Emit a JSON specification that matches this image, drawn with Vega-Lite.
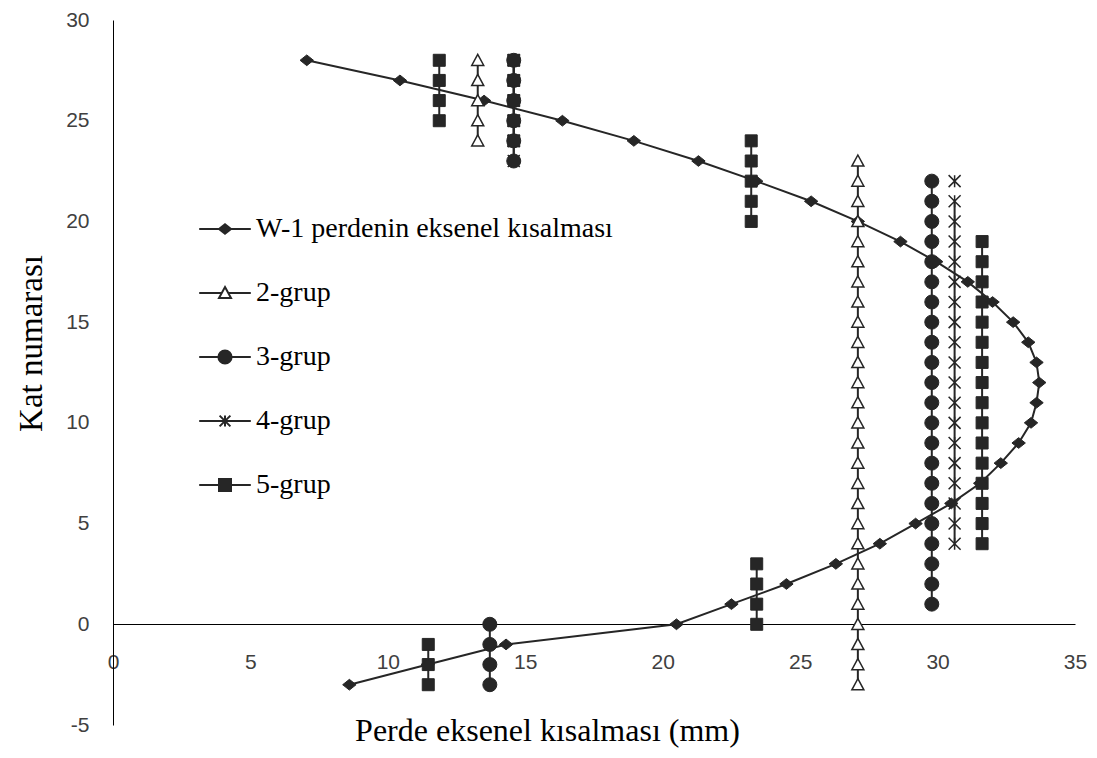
{
  "$schema": "https://vega.github.io/schema/vega-lite/v6.json",
  "width": 962,
  "height": 705,
  "autosize": "none",
  "padding": {"left": 113, "top": 20, "right": 22, "bottom": 33},
  "background": "white",
  "config": {"view": {"stroke": null}, "axis": {"grid": false}},
  "data": {"values": [
    {"series": "5-grup", "seg": "5a", "x": 11.87, "y": 25}, {"series": "5-grup", "seg": "5a", "x": 11.87, "y": 26}, {"series": "5-grup", "seg": "5a", "x": 11.87, "y": 27}, {"series": "5-grup", "seg": "5a", "x": 11.87, "y": 28},
    {"series": "5-grup", "seg": "5b", "x": 14.58, "y": 24}, {"series": "5-grup", "seg": "5b", "x": 14.58, "y": 25}, {"series": "5-grup", "seg": "5b", "x": 14.58, "y": 26}, {"series": "5-grup", "seg": "5b", "x": 14.58, "y": 27}, {"series": "5-grup", "seg": "5b", "x": 14.58, "y": 28},
    {"series": "5-grup", "seg": "5c", "x": 23.22, "y": 20}, {"series": "5-grup", "seg": "5c", "x": 23.22, "y": 21}, {"series": "5-grup", "seg": "5c", "x": 23.22, "y": 22}, {"series": "5-grup", "seg": "5c", "x": 23.22, "y": 23}, {"series": "5-grup", "seg": "5c", "x": 23.22, "y": 24},
    {"series": "5-grup", "seg": "5d", "x": 31.62, "y": 4}, {"series": "5-grup", "seg": "5d", "x": 31.62, "y": 5}, {"series": "5-grup", "seg": "5d", "x": 31.62, "y": 6}, {"series": "5-grup", "seg": "5d", "x": 31.62, "y": 7}, {"series": "5-grup", "seg": "5d", "x": 31.62, "y": 8}, {"series": "5-grup", "seg": "5d", "x": 31.62, "y": 9}, {"series": "5-grup", "seg": "5d", "x": 31.62, "y": 10}, {"series": "5-grup", "seg": "5d", "x": 31.62, "y": 11}, {"series": "5-grup", "seg": "5d", "x": 31.62, "y": 12}, {"series": "5-grup", "seg": "5d", "x": 31.62, "y": 13}, {"series": "5-grup", "seg": "5d", "x": 31.62, "y": 14}, {"series": "5-grup", "seg": "5d", "x": 31.62, "y": 15}, {"series": "5-grup", "seg": "5d", "x": 31.62, "y": 16}, {"series": "5-grup", "seg": "5d", "x": 31.62, "y": 17}, {"series": "5-grup", "seg": "5d", "x": 31.62, "y": 18}, {"series": "5-grup", "seg": "5d", "x": 31.62, "y": 19},
    {"series": "5-grup", "seg": "5e", "x": 23.42, "y": 0}, {"series": "5-grup", "seg": "5e", "x": 23.42, "y": 1}, {"series": "5-grup", "seg": "5e", "x": 23.42, "y": 2}, {"series": "5-grup", "seg": "5e", "x": 23.42, "y": 3},
    {"series": "5-grup", "seg": "5f", "x": 11.47, "y": -3}, {"series": "5-grup", "seg": "5f", "x": 11.47, "y": -2}, {"series": "5-grup", "seg": "5f", "x": 11.47, "y": -1},
    {"series": "4-grup", "seg": "4a", "x": 14.58, "y": 23}, {"series": "4-grup", "seg": "4a", "x": 14.58, "y": 24}, {"series": "4-grup", "seg": "4a", "x": 14.58, "y": 25}, {"series": "4-grup", "seg": "4a", "x": 14.58, "y": 26}, {"series": "4-grup", "seg": "4a", "x": 14.58, "y": 27}, {"series": "4-grup", "seg": "4a", "x": 14.58, "y": 28},
    {"series": "4-grup", "seg": "4b", "x": 30.62, "y": 4}, {"series": "4-grup", "seg": "4b", "x": 30.62, "y": 5}, {"series": "4-grup", "seg": "4b", "x": 30.62, "y": 6}, {"series": "4-grup", "seg": "4b", "x": 30.62, "y": 7}, {"series": "4-grup", "seg": "4b", "x": 30.62, "y": 8}, {"series": "4-grup", "seg": "4b", "x": 30.62, "y": 9}, {"series": "4-grup", "seg": "4b", "x": 30.62, "y": 10}, {"series": "4-grup", "seg": "4b", "x": 30.62, "y": 11}, {"series": "4-grup", "seg": "4b", "x": 30.62, "y": 12}, {"series": "4-grup", "seg": "4b", "x": 30.62, "y": 13}, {"series": "4-grup", "seg": "4b", "x": 30.62, "y": 14}, {"series": "4-grup", "seg": "4b", "x": 30.62, "y": 15}, {"series": "4-grup", "seg": "4b", "x": 30.62, "y": 16}, {"series": "4-grup", "seg": "4b", "x": 30.62, "y": 17}, {"series": "4-grup", "seg": "4b", "x": 30.62, "y": 18}, {"series": "4-grup", "seg": "4b", "x": 30.62, "y": 19}, {"series": "4-grup", "seg": "4b", "x": 30.62, "y": 20}, {"series": "4-grup", "seg": "4b", "x": 30.62, "y": 21},
    {"series": "4-grup", "seg": "4c", "x": 30.62, "y": 22},
    {"series": "3-grup", "seg": "3a", "x": 14.58, "y": 23}, {"series": "3-grup", "seg": "3a", "x": 14.58, "y": 24}, {"series": "3-grup", "seg": "3a", "x": 14.58, "y": 25}, {"series": "3-grup", "seg": "3a", "x": 14.58, "y": 26}, {"series": "3-grup", "seg": "3a", "x": 14.58, "y": 27}, {"series": "3-grup", "seg": "3a", "x": 14.58, "y": 28},
    {"series": "3-grup", "seg": "3b", "x": 29.79, "y": 1}, {"series": "3-grup", "seg": "3b", "x": 29.79, "y": 2}, {"series": "3-grup", "seg": "3b", "x": 29.79, "y": 3}, {"series": "3-grup", "seg": "3b", "x": 29.79, "y": 4}, {"series": "3-grup", "seg": "3b", "x": 29.79, "y": 5}, {"series": "3-grup", "seg": "3b", "x": 29.79, "y": 6}, {"series": "3-grup", "seg": "3b", "x": 29.79, "y": 7}, {"series": "3-grup", "seg": "3b", "x": 29.79, "y": 8}, {"series": "3-grup", "seg": "3b", "x": 29.79, "y": 9}, {"series": "3-grup", "seg": "3b", "x": 29.79, "y": 10}, {"series": "3-grup", "seg": "3b", "x": 29.79, "y": 11}, {"series": "3-grup", "seg": "3b", "x": 29.79, "y": 12}, {"series": "3-grup", "seg": "3b", "x": 29.79, "y": 13}, {"series": "3-grup", "seg": "3b", "x": 29.79, "y": 14}, {"series": "3-grup", "seg": "3b", "x": 29.79, "y": 15}, {"series": "3-grup", "seg": "3b", "x": 29.79, "y": 16}, {"series": "3-grup", "seg": "3b", "x": 29.79, "y": 17}, {"series": "3-grup", "seg": "3b", "x": 29.79, "y": 18}, {"series": "3-grup", "seg": "3b", "x": 29.79, "y": 19}, {"series": "3-grup", "seg": "3b", "x": 29.79, "y": 20}, {"series": "3-grup", "seg": "3b", "x": 29.79, "y": 21}, {"series": "3-grup", "seg": "3b", "x": 29.79, "y": 22},
    {"series": "3-grup", "seg": "3c", "x": 13.71, "y": -3}, {"series": "3-grup", "seg": "3c", "x": 13.71, "y": -2}, {"series": "3-grup", "seg": "3c", "x": 13.71, "y": -1}, {"series": "3-grup", "seg": "3c", "x": 13.71, "y": 0},
    {"series": "W-1 perdenin eksenel kısalması", "seg": "w", "x": 8.6, "y": -3}, {"series": "W-1 perdenin eksenel kısalması", "seg": "w", "x": 11.45, "y": -2}, {"series": "W-1 perdenin eksenel kısalması", "seg": "w", "x": 14.3, "y": -1}, {"series": "W-1 perdenin eksenel kısalması", "seg": "w", "x": 20.5, "y": 0}, {"series": "W-1 perdenin eksenel kısalması", "seg": "w", "x": 22.5, "y": 1}, {"series": "W-1 perdenin eksenel kısalması", "seg": "w", "x": 24.5, "y": 2}, {"series": "W-1 perdenin eksenel kısalması", "seg": "w", "x": 26.3, "y": 3}, {"series": "W-1 perdenin eksenel kısalması", "seg": "w", "x": 27.9, "y": 4}, {"series": "W-1 perdenin eksenel kısalması", "seg": "w", "x": 29.2, "y": 5}, {"series": "W-1 perdenin eksenel kısalması", "seg": "w", "x": 30.5, "y": 6}, {"series": "W-1 perdenin eksenel kısalması", "seg": "w", "x": 31.55, "y": 7}, {"series": "W-1 perdenin eksenel kısalması", "seg": "w", "x": 32.3, "y": 8}, {"series": "W-1 perdenin eksenel kısalması", "seg": "w", "x": 32.95, "y": 9}, {"series": "W-1 perdenin eksenel kısalması", "seg": "w", "x": 33.4, "y": 10}, {"series": "W-1 perdenin eksenel kısalması", "seg": "w", "x": 33.6, "y": 11}, {"series": "W-1 perdenin eksenel kısalması", "seg": "w", "x": 33.7, "y": 12}, {"series": "W-1 perdenin eksenel kısalması", "seg": "w", "x": 33.6, "y": 13}, {"series": "W-1 perdenin eksenel kısalması", "seg": "w", "x": 33.3, "y": 14}, {"series": "W-1 perdenin eksenel kısalması", "seg": "w", "x": 32.75, "y": 15}, {"series": "W-1 perdenin eksenel kısalması", "seg": "w", "x": 32.0, "y": 16}, {"series": "W-1 perdenin eksenel kısalması", "seg": "w", "x": 31.1, "y": 17}, {"series": "W-1 perdenin eksenel kısalması", "seg": "w", "x": 29.95, "y": 18}, {"series": "W-1 perdenin eksenel kısalması", "seg": "w", "x": 28.65, "y": 19}, {"series": "W-1 perdenin eksenel kısalması", "seg": "w", "x": 27.1, "y": 20}, {"series": "W-1 perdenin eksenel kısalması", "seg": "w", "x": 25.4, "y": 21}, {"series": "W-1 perdenin eksenel kısalması", "seg": "w", "x": 23.4, "y": 22}, {"series": "W-1 perdenin eksenel kısalması", "seg": "w", "x": 21.3, "y": 23}, {"series": "W-1 perdenin eksenel kısalması", "seg": "w", "x": 18.95, "y": 24}, {"series": "W-1 perdenin eksenel kısalması", "seg": "w", "x": 16.35, "y": 25}, {"series": "W-1 perdenin eksenel kısalması", "seg": "w", "x": 13.5, "y": 26}, {"series": "W-1 perdenin eksenel kısalması", "seg": "w", "x": 10.44, "y": 27}, {"series": "W-1 perdenin eksenel kısalması", "seg": "w", "x": 7.05, "y": 28},
    {"series": "2-grup", "seg": "2a", "x": 13.27, "y": 24}, {"series": "2-grup", "seg": "2a", "x": 13.27, "y": 25}, {"series": "2-grup", "seg": "2a", "x": 13.27, "y": 26}, {"series": "2-grup", "seg": "2a", "x": 13.27, "y": 27}, {"series": "2-grup", "seg": "2a", "x": 13.27, "y": 28},
    {"series": "2-grup", "seg": "2b", "x": 27.1, "y": -3}, {"series": "2-grup", "seg": "2b", "x": 27.1, "y": -2}, {"series": "2-grup", "seg": "2b", "x": 27.1, "y": -1}, {"series": "2-grup", "seg": "2b", "x": 27.1, "y": 0}, {"series": "2-grup", "seg": "2b", "x": 27.1, "y": 1}, {"series": "2-grup", "seg": "2b", "x": 27.1, "y": 2}, {"series": "2-grup", "seg": "2b", "x": 27.1, "y": 3}, {"series": "2-grup", "seg": "2b", "x": 27.1, "y": 4}, {"series": "2-grup", "seg": "2b", "x": 27.1, "y": 5}, {"series": "2-grup", "seg": "2b", "x": 27.1, "y": 6}, {"series": "2-grup", "seg": "2b", "x": 27.1, "y": 7}, {"series": "2-grup", "seg": "2b", "x": 27.1, "y": 8}, {"series": "2-grup", "seg": "2b", "x": 27.1, "y": 9}, {"series": "2-grup", "seg": "2b", "x": 27.1, "y": 10}, {"series": "2-grup", "seg": "2b", "x": 27.1, "y": 11}, {"series": "2-grup", "seg": "2b", "x": 27.1, "y": 12}, {"series": "2-grup", "seg": "2b", "x": 27.1, "y": 13}, {"series": "2-grup", "seg": "2b", "x": 27.1, "y": 14}, {"series": "2-grup", "seg": "2b", "x": 27.1, "y": 15}, {"series": "2-grup", "seg": "2b", "x": 27.1, "y": 16}, {"series": "2-grup", "seg": "2b", "x": 27.1, "y": 17}, {"series": "2-grup", "seg": "2b", "x": 27.1, "y": 18}, {"series": "2-grup", "seg": "2b", "x": 27.1, "y": 19}, {"series": "2-grup", "seg": "2b", "x": 27.1, "y": 20}, {"series": "2-grup", "seg": "2b", "x": 27.1, "y": 21}, {"series": "2-grup", "seg": "2b", "x": 27.1, "y": 22}, {"series": "2-grup", "seg": "2b", "x": 27.1, "y": 23}
  ]},
  "encoding": {
    "x": {"field": "x", "type": "quantitative",
      "scale": {"domain": [0, 35], "nice": false, "zero": false},
      "axis": {"values": [0, 5, 10, 15, 20, 25, 30, 35], "offset": -101, "ticks": false, "grid": false,
        "domainColor": "#000000", "domainWidth": 1, "labelPadding": 27, "labelFlush": false, "labelOverlap": false,
        "labelFont": "Liberation Sans", "labelFontSize": 21, "labelColor": "#404040", "labelExpr": "'' + datum.value",
        "title": "Perde eksenel kısalması (mm)", "titleFont": "Liberation Serif", "titleFontSize": 32, "titleFontWeight": "normal", "titleColor": "#000000",
        "titleX": 434, "titleY": 106, "titleBaseline": "middle", "titleAlign": "center"}},
    "y": {"field": "y", "type": "quantitative",
      "scale": {"domain": [-5, 30], "nice": false, "zero": false},
      "axis": {"values": [-5, 0, 5, 10, 15, 20, 25, 30], "ticks": false, "grid": false,
        "domainColor": "#000000", "domainWidth": 1, "labelPadding": 24, "labelFlush": false, "labelOverlap": false,
        "labelFont": "Liberation Sans", "labelFontSize": 21, "labelColor": "#404040", "labelExpr": "'' + datum.value",
        "title": "Kat numarası", "titleFont": "Liberation Serif", "titleFontSize": 33, "titleFontWeight": "normal", "titleColor": "#000000",
        "titleX": -82, "titleY": 323, "titleAngle": 270, "titleBaseline": "middle", "titleAlign": "center"}}
  },
  "layer": [
    {
      "mark": {"type": "line", "strokeWidth": 2, "color": "#262626"},
      "encoding": {"detail": {"field": "seg"}, "order": {"field": "y"}}
    },
    {
      "transform": [{"filter": {"field": "series", "equal": "5-grup"}}],
      "mark": {"type": "point", "shape": "square", "size": 144, "filled": true, "fill": "#262626", "stroke": "#262626", "strokeWidth": 1, "opacity": 1},
      "encoding": {}
    },
    {
      "transform": [{"filter": {"field": "series", "equal": "4-grup"}}],
      "mark": {"type": "point", "shape": "M-1,-1L1,1M-1,1L1,-1M0,-1L0,1", "size": 144, "filled": false, "stroke": "#262626", "strokeWidth": 1.5, "opacity": 1},
      "encoding": {}
    },
    {
      "transform": [{"filter": {"field": "series", "equal": "3-grup"}}],
      "mark": {"type": "point", "shape": "circle", "size": 196, "filled": true, "fill": "#262626", "stroke": "#262626", "strokeWidth": 1, "opacity": 1},
      "encoding": {}
    },
    {
      "transform": [{"filter": {"field": "series", "equal": "W-1 perdenin eksenel kısalması"}}],
      "mark": {"type": "point", "shape": "M-1,0L0,-0.8L1,0L0,0.8Z", "size": 180, "filled": true, "fill": "#262626", "stroke": "#262626", "strokeWidth": 1, "opacity": 1},
      "encoding": {}
    },
    {
      "transform": [{"filter": {"field": "series", "equal": "2-grup"}}],
      "mark": {"type": "point", "shape": "M0,-1L1,0.85L-1,0.85Z", "size": 144, "filled": false, "fill": "white", "stroke": "#262626", "strokeWidth": 1.5, "opacity": 1},
      "encoding": {}
    },
    {
      "mark": {"type": "point", "strokeWidth": 2, "opacity": 0},
      "encoding": {
        "shape": {"field": "series", "type": "nominal",
          "scale": {"domain": ["W-1 perdenin eksenel kısalması", "2-grup", "3-grup", "4-grup", "5-grup"],
            "range": [
              "M-4.3,0H4.3M-1,0L0,-0.8L1,0L0,0.8Z",
              "M-4.3,0H-0.54M0.54,0H4.3M0,-1L1,0.85L-1,0.85Z",
              "M-4.3,0H-1.1M1.1,0H4.3M-1.1,0A1.1,1.1,0,1,1,1.1,0A1.1,1.1,0,1,1,-1.1,0Z",
              "M-4.3,0H4.3M-0.9,-0.9L0.9,0.9M-0.9,0.9L0.9,-0.9M0,-0.9V0.9",
              "M-4.3,0H-1M1,0H4.3M-1,-1H1V1H-1Z"]},
          "legend": {"orient": "none", "legendX": 98, "legendY": 195, "title": null, "padding": 0,
            "labelFont": "Liberation Serif", "labelFontSize": 28, "labelColor": "#000000", "labelOffset": 17, "labelLimit": 600,
            "symbolSize": 144, "symbolStrokeWidth": 2, "symbolOpacity": 1, "rowPadding": 36}},
        "fill": {"field": "series", "type": "nominal",
          "scale": {"domain": ["W-1 perdenin eksenel kısalması", "2-grup", "3-grup", "4-grup", "5-grup"],
            "range": ["#262626", "white", "#262626", "transparent", "#262626"]},
          "legend": {"orient": "none", "legendX": 98, "legendY": 195, "title": null, "padding": 0,
            "labelFont": "Liberation Serif", "labelFontSize": 28, "labelColor": "#000000", "labelOffset": 17, "labelLimit": 600,
            "symbolSize": 144, "symbolStrokeWidth": 2, "symbolOpacity": 1, "rowPadding": 36}},
        "stroke": {"field": "series", "type": "nominal",
          "scale": {"domain": ["W-1 perdenin eksenel kısalması", "2-grup", "3-grup", "4-grup", "5-grup"],
            "range": ["#262626", "#262626", "#262626", "#262626", "#262626"]},
          "legend": {"orient": "none", "legendX": 98, "legendY": 195, "title": null, "padding": 0,
            "labelFont": "Liberation Serif", "labelFontSize": 28, "labelColor": "#000000", "labelOffset": 17, "labelLimit": 600,
            "symbolSize": 144, "symbolStrokeWidth": 2, "symbolOpacity": 1, "rowPadding": 36}}
      }
    }
  ]
}
